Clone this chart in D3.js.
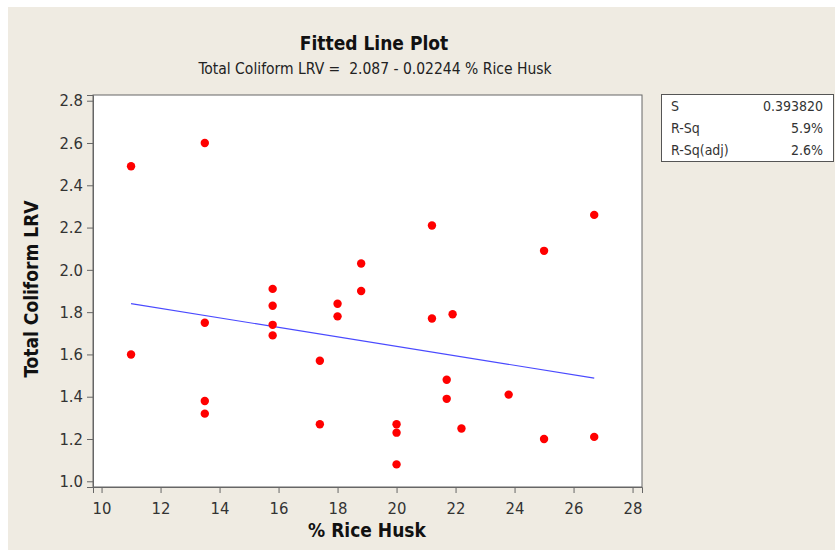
<!DOCTYPE html>
<html><head><meta charset="utf-8">
<script src="https://cdn.jsdelivr.net/npm/d3@7"></script>
<style>body{margin:0;background:#fff}</style>
</head><body>
<svg id="c" width="835" height="558"></svg>
<script>
const riceHusk = [11.0, 11.0, 13.5, 13.5, 13.5, 13.5, 15.8, 15.8, 15.8, 15.8, 17.4, 17.4, 18.0, 18.0, 18.8, 18.8, 20.0, 20.0, 20.0, 21.2, 21.2, 21.9, 21.7, 21.7, 22.2, 23.8, 25.0, 25.0, 26.7, 26.7];
const coliformLRV = [2.49, 1.60, 2.60, 1.75, 1.38, 1.32, 1.91, 1.83, 1.74, 1.69, 1.57, 1.27, 1.84, 1.78, 2.03, 1.90, 1.27, 1.23, 1.08, 2.21, 1.77, 1.79, 1.48, 1.39, 1.25, 1.41, 2.09, 1.20, 2.26, 1.21];
const fitIntercept = 2.087, fitSlope = -0.02244;
const xTicks = [10, 12, 14, 16, 18, 20, 22, 24, 26, 28];
const yTicks = [1.0, 1.2, 1.4, 1.6, 1.8, 2.0, 2.2, 2.4, 2.6, 2.8];
const statLabels = ["S", "R-Sq", "R-Sq(adj)"];
const statValues = ["0.393820", "5.9%", "2.6%"];

const svg = d3.select("#c");
const font = "'DejaVu Sans Condensed', 'DejaVu Sans', sans-serif";
const fontC = "'DejaVu Sans Condensed', 'DejaVu Sans', sans-serif";
svg.append("rect").attr("x", 8).attr("y", 7).attr("width", 827).attr("height", 543).attr("fill", "#efebe2");

const L = 93, R = 642, T = 95, B = 487;
const x = d3.scaleLinear().domain([9.71, 28.32]).range([L, R]);
const y = d3.scaleLinear().domain([0.973, 2.827]).range([B, T]);

svg.append("rect").attr("x", L).attr("y", T).attr("width", R - L).attr("height", B - T)
  .attr("fill", "#fff").attr("stroke", "#666").attr("stroke-width", 1);

const xa = svg.append("g").attr("transform", `translate(0,${B})`)
  .call(d3.axisBottom(x).tickValues(xTicks).tickSize(6).tickPadding(9).tickFormat(d3.format("d")));
const ya = svg.append("g").attr("transform", `translate(${L},0)`)
  .call(d3.axisLeft(y).tickValues(yTicks).tickSize(6).tickPadding(4).tickFormat(d3.format(".1f")));
[xa, ya].forEach(a => {
  a.select(".domain").attr("stroke", "#666");
  a.selectAll(".tick line").attr("stroke", "#666");
  a.selectAll("text").attr("font-family", fontC).attr("font-size", 16.5).attr("fill", "#333");
});

// fitted line
const xr = d3.extent(riceHusk);
svg.append("line")
  .attr("x1", x(xr[0])).attr("y1", y(fitIntercept + fitSlope * xr[0]))
  .attr("x2", x(xr[1])).attr("y2", y(fitIntercept + fitSlope * xr[1]))
  .attr("stroke", "#4a4aff").attr("stroke-width", 1.1);

svg.append("g").selectAll("circle").data(riceHusk).join("circle")
  .attr("cx", d => x(d)).attr("cy", (d, i) => y(coliformLRV[i])).attr("r", 4.2).attr("fill", "#ff0000");

// titles
svg.append("text").attr("x", 374).attr("y", 50).attr("text-anchor", "middle")
  .attr("font-family", fontC).attr("font-weight", "bold").attr("font-size", 19).attr("fill", "#111").text("Fitted Line Plot");
svg.append("text").attr("x", 375).attr("y", 74).attr("text-anchor", "middle")
  .attr("font-family", fontC).attr("font-size", 15.5).attr("fill", "#222").attr("xml:space", "preserve")
  .text("Total Coliform LRV =  2.087 - 0.02244 % Rice Husk");

svg.append("text").attr("x", 367).attr("y", 537).attr("text-anchor", "middle")
  .attr("font-family", fontC).attr("font-weight", "bold").attr("font-size", 19).attr("fill", "#111").text("% Rice Husk");
svg.append("text").attr("transform", "translate(38,289) rotate(-90)").attr("text-anchor", "middle")
  .attr("font-family", fontC).attr("font-weight", "bold").attr("font-size", 19).attr("fill", "#111").text("Total Coliform LRV");

// stats box
svg.append("rect").attr("x", 661.5).attr("y", 94.5).attr("width", 172).attr("height", 67)
  .attr("fill", "#fff").attr("stroke", "#555");
const rowY = d3.scalePoint().domain(statLabels).range([111, 155]);
svg.append("g").selectAll("text").data(statLabels).join("text")
  .attr("x", 671).attr("y", d => rowY(d)).attr("font-family", fontC).attr("font-size", 14).attr("fill", "#333").text(d => d);
svg.append("g").selectAll("text").data(statValues).join("text")
  .attr("x", 823).attr("y", (d, i) => rowY(statLabels[i])).attr("text-anchor", "end")
  .attr("font-family", fontC).attr("font-size", 14).attr("fill", "#333").text(d => d);
</script>
</body></html>
